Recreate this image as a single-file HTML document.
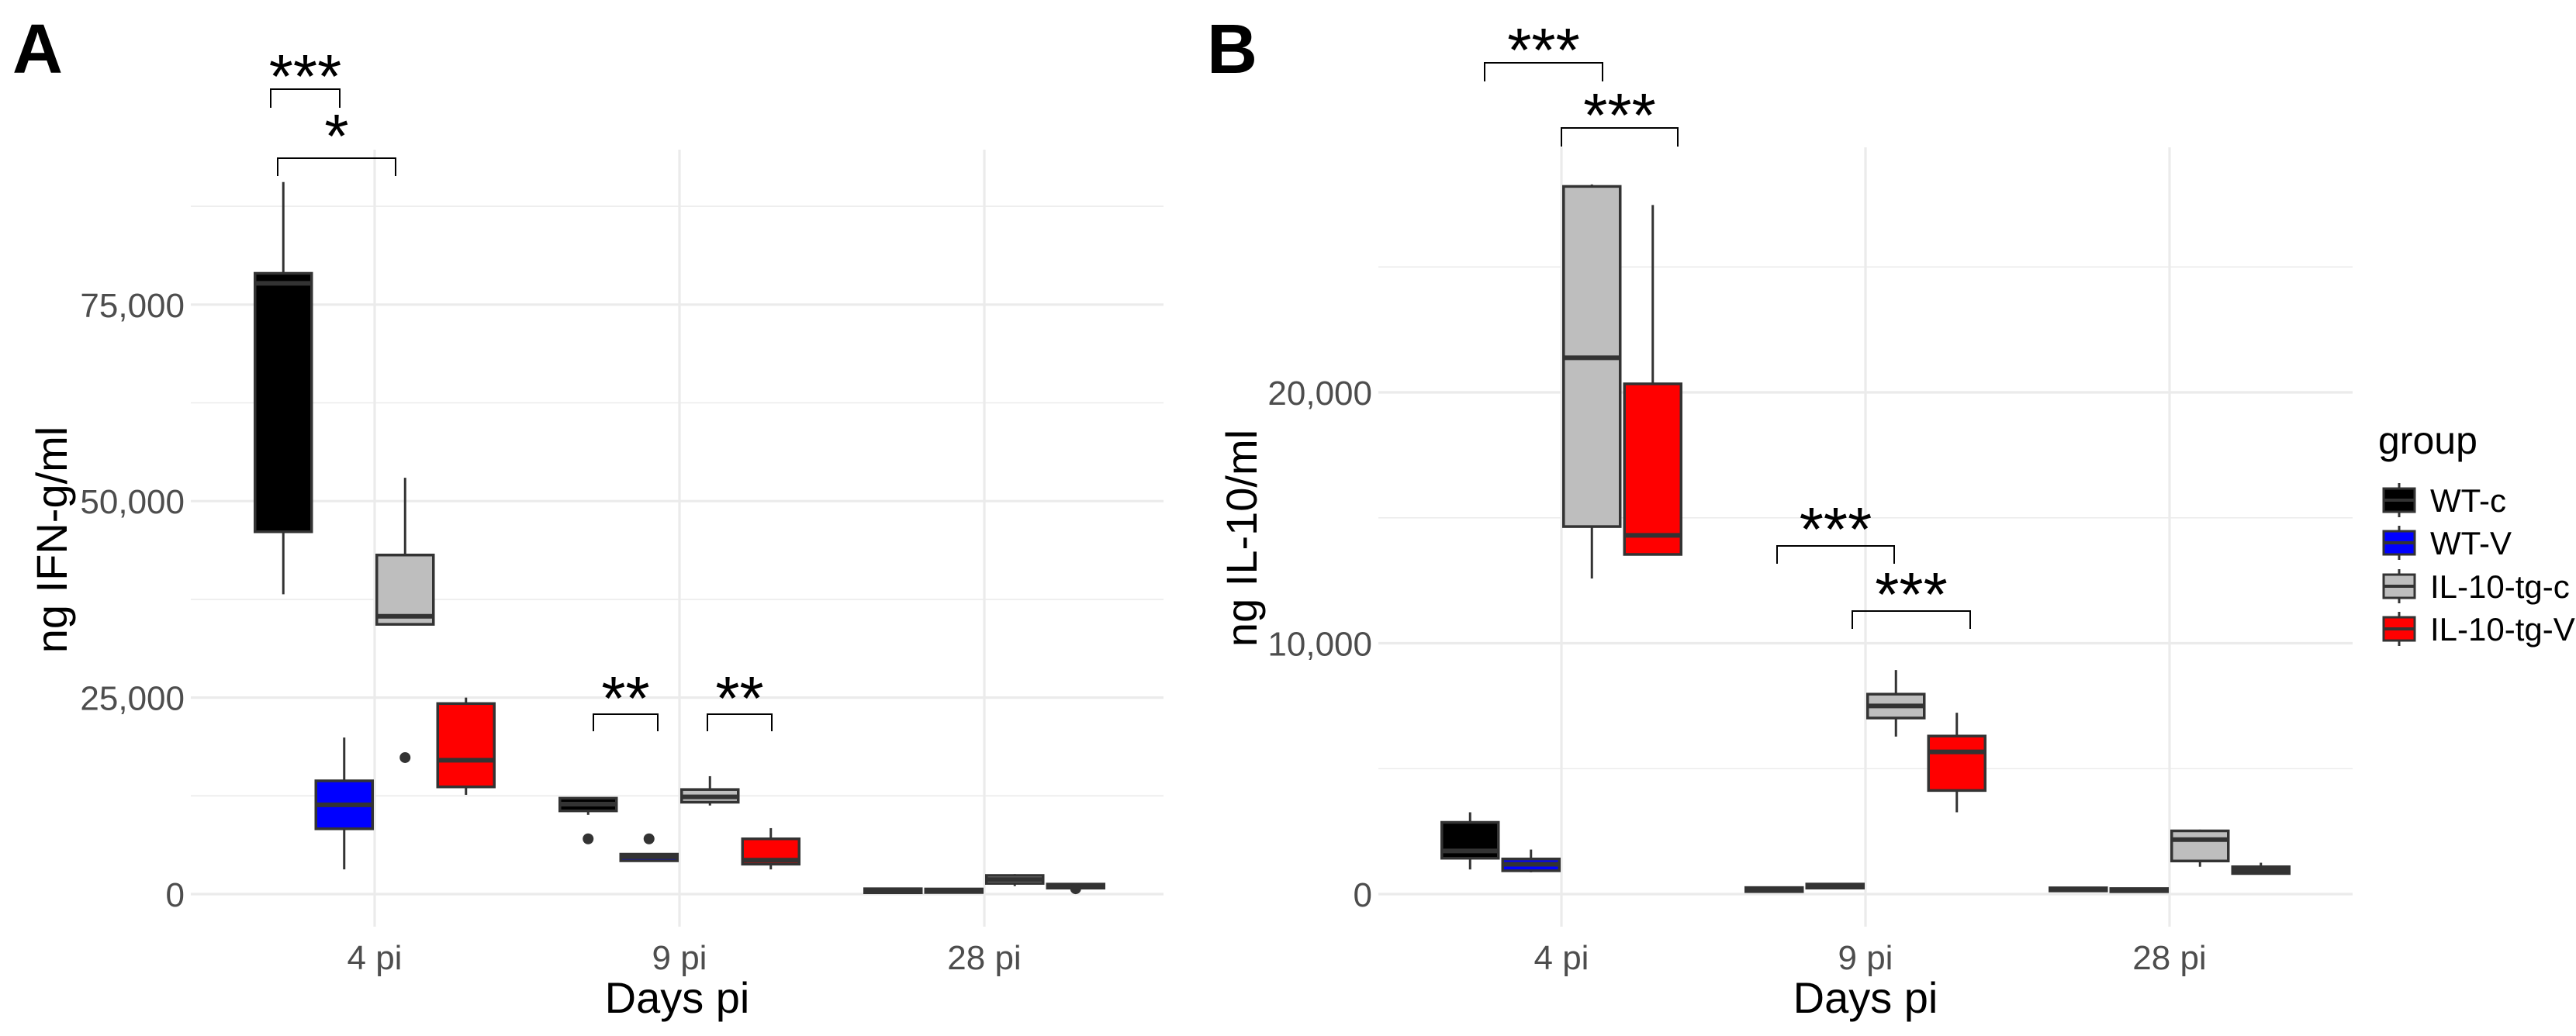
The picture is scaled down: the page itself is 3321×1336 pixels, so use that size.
<!DOCTYPE html>
<html><head><meta charset="utf-8"><style>
html,body{margin:0;padding:0;background:#fff}
svg{display:block;font-family:"Liberation Sans",sans-serif}
</style></head><body>
<svg id="chart" width="3321" height="1336" viewBox="0 0 3321 1336"></svg>
<script>
const categories=["4 pi","9 pi","28 pi"];
const groups=["WT-c","WT-V","IL-10-tg-c","IL-10-tg-V"];
const groupColors=["#000000","#0000ff","#bebebe","#ff0000"];
// panel A: [lowerWhisker, q1, median, q3, upperWhisker] per category, per group
const ifnWTc=[[38140,46100,77710,78980,90590],[10080,10590,11440,12200,12290],[170,170,400,680,680]];
const ifnWTV=[[3140,8310,11360,14410,19920],[4240,4240,4750,5080,5080],[170,200,400,650,650]];
const ifnTGc=[[34320,34320,35340,43140,52970],[11270,11690,12370,13300,15000],[1020,1360,1860,2370,2540]];
const ifnTGV=[[12630,13640,17030,24240,25000],[3140,3810,4320,7030,8390],[760,760,1000,1270,1270]];
const ifnOutliers=[[0,2,17370],[1,0,7030],[1,1,7030],[2,3,680]]; // [category, group, value]
const ifnTicks=[0,25000,50000,75000];
const ifnTickLabels=["0","25,000","50,000","75,000"];
const ifnMinor=[12500,37500,62500,87500];
// panel B
const il10WTc=[[980,1430,1720,2860,3260],[100,100,180,260,260],[150,150,200,250,250]];
const il10WTV=[[870,930,1190,1400,1775],[240,240,320,400,400],[120,120,170,220,220]];
const il10TGc=[[12580,14650,21380,28210,28290],[6280,7020,7500,7970,8930],[1090,1320,2170,2520,2570]];
const il10TGV=[[13540,13540,14300,20340,27470],[3260,4130,5670,6300,7230],[800,820,950,1090,1250]];
const il10Ticks=[0,10000,20000];
const il10TickLabels=["0","10,000","20,000"];
const il10Minor=[5000,15000,25000];

const NS="http://www.w3.org/2000/svg";
const svg=document.getElementById('chart');
function mk(tag,attrs,parent){const e=document.createElementNS(NS,tag);for(const k in attrs)e.setAttribute(k,attrs[k]);(parent||svg).appendChild(e);return e;}

function panel(cfg){
  const g=mk('g',{});
  
  
  const y=v=>cfg.y0-v*cfg.pxPer/cfg.unit;
  const xc=i=>cfg.x0+i*cfg.step;
  cfg.minor.forEach(v=>{const l=mk('line',{x1:cfg.left,x2:cfg.right,y1:y(v),y2:y(v),stroke:'#ebebeb','stroke-width':1.6},g);
    
    });
  cfg.ticks.forEach((v,i)=>{const l=mk('line',{x1:cfg.left,x2:cfg.right,y1:y(v),y2:y(v),stroke:'#ebebeb','stroke-width':3.2},g);
    
    
    const t=mk('text',{x:cfg.left-8,y:y(v)+16,'text-anchor':'end','font-size':44,fill:'#4d4d4d'},g);t.textContent=cfg.tickLabels[i];
    
    });
  categories.forEach((c,i)=>{const l=mk('line',{x1:xc(i),x2:xc(i),y1:cfg.top,y2:1195,stroke:'#ebebeb','stroke-width':3.2},g);
    
    
    const t=mk('text',{x:xc(i),y:1250,'text-anchor':'middle','font-size':44,fill:'#4d4d4d'},g);t.textContent=c;
    
    });
  const bw=73,dodge=78.5;
  cfg.series.forEach((ser,gi)=>{
    ser.forEach((s,ci)=>{
      const cx=xc(ci)+(gi-1.5)*dodge;
      const w=mk('line',{x1:cx,x2:cx,y1:y(s[0]),y2:y(s[4]),stroke:'#333','stroke-width':3},g);
      
      
      const b=mk('rect',{x:cx-bw/2,y:y(s[3]),width:bw,height:Math.max(y(s[1])-y(s[3]),4),fill:groupColors[gi],stroke:'#333','stroke-width':3.5},g);
      
      
      const m=mk('line',{x1:cx-bw/2,x2:cx+bw/2,y1:y(s[2]),y2:y(s[2]),stroke:'#333','stroke-width':6},g);
      
      
    });
  });
  (cfg.outliers||[]).forEach(o=>{const d=mk('circle',{cx:xc(o[0])+(o[1]-1.5)*dodge,cy:y(o[2]),r:7,fill:'#333'},g);
    
    });
  const xt=mk('text',{x:(cfg.left+cfg.right)/2,y:1306,'text-anchor':'middle','font-size':56,fill:'#000'},g);xt.textContent='Days pi';
  
  
  const yt=mk('text',{x:0,y:0,'text-anchor':'middle','font-size':56,fill:'#000',transform:`translate(${cfg.ytx},${cfg.yty}) rotate(-90)`},g);yt.textContent=cfg.ytitle;
  
  
  const lab=mk('text',{x:cfg.labx,y:94,'font-size':90,'font-weight':'bold',fill:'#000'},g);lab.textContent=cfg.label;
  
  
  cfg.brackets.forEach(bk=>{
    const p=mk('path',{d:`M${bk[0]},${bk[3]} L${bk[0]},${bk[2]} L${bk[1]},${bk[2]} L${bk[1]},${bk[3]}`,fill:'none',stroke:'#000','stroke-width':2},g);
    
    
    const t=mk('text',{x:(bk[0]+bk[1])/2,y:bk[5],'text-anchor':'middle','font-size':80,fill:'#000'},g);t.textContent=bk[4];
    
    
  });
}

panel({name:'panel-a-ifn',label:'A',labx:16,y0:1153,pxPer:253.4,unit:25000,x0:483,step:393,left:246,right:1500,top:193,
  ticks:ifnTicks,tickLabels:ifnTickLabels,minor:ifnMinor,series:[ifnWTc,ifnWTV,ifnTGc,ifnTGV],outliers:ifnOutliers,
  ytitle:'ng IFN-g/ml',ytx:86,yty:696,
  brackets:[[349,438,115,139,'***',126],[358,510,204,227,'*',203],[765,848,921,943,'**',928],[912,995,921,943,'**',928]]});
panel({name:'panel-b-il10',label:'B',labx:1556,y0:1153,pxPer:323.5,unit:10000,x0:2013,step:392,left:1777,right:3033,top:190,
  ticks:il10Ticks,tickLabels:il10TickLabels,minor:il10Minor,series:[il10WTc,il10WTV,il10TGc,il10TGV],
  ytitle:'ng IL-10/ml',ytx:1620,yty:694,
  brackets:[[1914,2066,81,105,'***',92],[2013,2163,165,189,'***',176],[2291,2442,704,727,'***',710],[2388,2540,788,811,'***',794]]});

// legend
const lg=mk('g',{});


const lt=mk('text',{x:3066,y:585,'font-size':50,fill:'#000'},lg);lt.textContent='group';


const keyY=[645,700,756,811];
groups.forEach((gname,i)=>{
  const e=mk('g',{},lg);
  
  
  mk('line',{x1:3093,x2:3093,y1:keyY[i]-22,y2:keyY[i]+22,stroke:'#333','stroke-width':3},e);
  mk('rect',{x:3073,y:keyY[i]-15,width:40,height:30,fill:groupColors[i],stroke:'#333','stroke-width':3},e);
  mk('line',{x1:3073,x2:3113,y1:keyY[i],y2:keyY[i],stroke:'#333','stroke-width':4},e);
  const t=mk('text',{x:3133,y:keyY[i]+15,'font-size':42,fill:'#000'},e);t.textContent=gname;
});
</script>
</body></html>
